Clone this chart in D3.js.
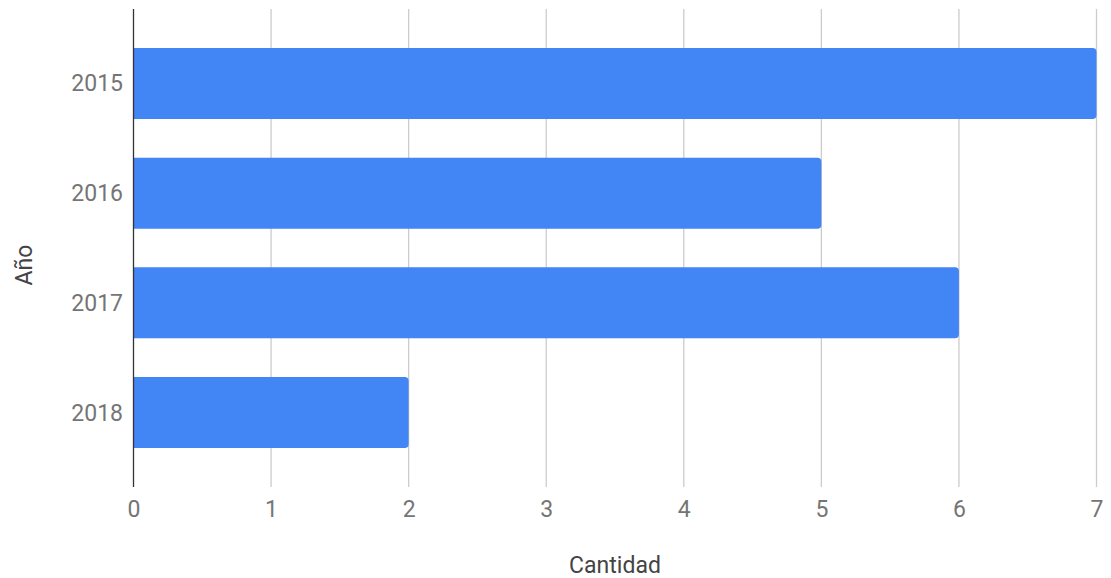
<!DOCTYPE html>
<html>
<head>
<meta charset="utf-8">
<script src="https://cdn.jsdelivr.net/npm/d3@7"></script>
<style>
  body { margin: 0; background: #fff; }
  text { font-family: Roboto, "Noto Sans", sans-serif; }
</style>
</head>
<body>
<svg id="chart" width="1111" height="578"></svg>
<script>
// data
const years = ['2015', '2016', '2017', '2018'];
const cantidad = [7, 5, 6, 2];
const xTicks = [0, 1, 2, 3, 4, 5, 6, 7];

const plotLeft = 133.5;
const plotRight = 1096.5;
const plotTop = 9;
const plotBottom = 487;
const fontSize = 23;

const svg = d3.select('#chart');

var x = d3.scaleLinear()
	.domain([0, 7])
	.range([plotLeft, plotRight]);

var y = d3.scaleBand()
	.domain(years)
	.range([plotTop, plotBottom])
	.paddingInner(0.353)
	.paddingOuter(0.355);

// gridlines
svg.append('g')
	.selectAll('line')
	.data(xTicks.filter(d => d !== 0))
	.join('line')
	.attr('x1', d => x(d)).attr('x2', d => x(d))
	.attr('y1', plotTop).attr('y2', plotBottom)
	.attr('stroke', '#cccccc')
	.attr('stroke-width', 1.3);

// bars with rounded right end
const r = 4;
svg.append('g')
	.selectAll('path')
	.data(years)
	.join('path')
	.attr('fill', '#4285f4')
	.attr('d', (d, i) => {
		const x0 = x(0), x1 = x(cantidad[i]);
		const y0 = y(d), h = y.bandwidth();
		return 'M' + x0 + ',' + y0 +
			'H' + (x1 - r) +
			'Q' + x1 + ',' + y0 + ' ' + x1 + ',' + (y0 + r) +
			'V' + (y0 + h - r) +
			'Q' + x1 + ',' + (y0 + h) + ' ' + (x1 - r) + ',' + (y0 + h) +
			'H' + x0 + 'Z';
	});

// baseline
svg.append('line')
	.attr('x1', x(0)).attr('x2', x(0))
	.attr('y1', plotTop).attr('y2', plotBottom)
	.attr('stroke', '#333333')
	.attr('stroke-width', 1.3);

// x axis labels
svg.append('g')
	.attr('transform', 'translate(0,' + 517 + ')')
	.call(d3.axisBottom(x).tickValues(xTicks).tickSize(0).tickPadding(0).tickFormat(d3.format('d')))
	.call(g => g.select('.domain').remove())
	.call(g => g.selectAll('text')
		.attr('dy', 0)
		.attr('fill', '#757575')
		.attr('font-size', fontSize)
		.attr('font-family', 'Roboto'));

// y axis labels
svg.append('g')
	.attr('transform', 'translate(' + 123 + ',0)')
	.call(d3.axisLeft(y).tickSize(0).tickPadding(0))
	.call(g => g.select('.domain').remove())
	.call(g => g.selectAll('text')
		.attr('dy', '0.35em')
		.attr('fill', '#757575')
		.attr('font-size', fontSize)
		.attr('font-family', 'Roboto'));

// axis titles
svg.append('text')
	.attr('x', (plotLeft + plotRight) / 2)
	.attr('y', 573)
	.attr('text-anchor', 'middle')
	.attr('fill', '#444444')
	.attr('font-size', fontSize)
	.text('Cantidad');

svg.append('text')
	.attr('transform', 'translate(' + 32 + ',' + 265 + ') rotate(-90)')
	.attr('text-anchor', 'middle')
	.attr('fill', '#444444')
	.attr('font-size', fontSize)
	.text('Año');
</script>
</body>
</html>
